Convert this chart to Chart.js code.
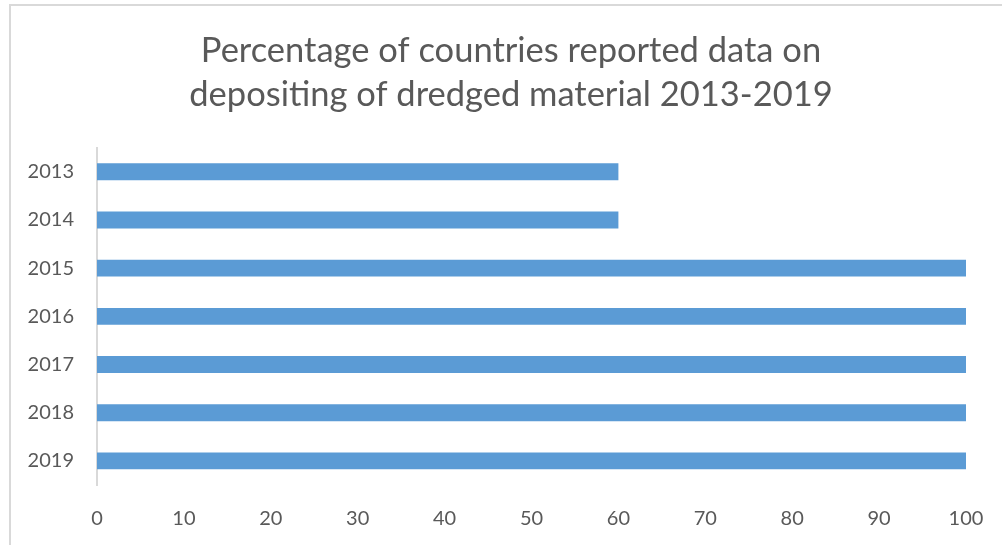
<!DOCTYPE html>
<html>
<head>
<meta charset="utf-8">
<script src="https://cdn.jsdelivr.net/npm/chart.js@4/dist/chart.umd.min.js"></script>
<style>
  html, body { margin: 0; padding: 0; background: #fff; }
  #wrap { position: relative; width: 1002px; height: 545px; overflow: hidden; }
  #frame { position: absolute; left: 9px; top: 4px; width: 1100px; height: 700px;
           border-left: 2px solid #d9d9d9; border-top: 2px solid #d9d9d9; box-sizing: border-box; }
  canvas { position: absolute; left: 0; top: 0; }
</style>
</head>
<body>
<div id="wrap">
  <div id="frame"></div>
  <canvas id="c" width="1002" height="545"></canvas>
</div>
<script>
const years = ['2013', '2014', '2015', '2016', '2017', '2018', '2019'];
const percentReported = [60, 60, 100, 100, 100, 100, 100];
const xTicks = [0, 10, 20, 30, 40, 50, 60, 70, 80, 90, 100];

const textColor = '#595959';
const fontFamily = 'Lato, "Open Sans", sans-serif';

// Centre the title over the whole framed area rather than the padded layout box
const titleSpan = {
  id: 'titleSpan',
  afterLayout(chart) {
    const t = chart.titleBlock;
    if (!t) return;
    t.left = 56;
    t.width = chart.chartArea.right - 56;
    t.right = t.left + t.width;
  }
};

new Chart(document.getElementById('c'), {
  type: 'bar',
  data: {
    labels: years,
    datasets: [{
      data: percentReported,
      backgroundColor: '#5b9bd5',
      borderWidth: 0,
      barPercentage: 0.35,
      categoryPercentage: 1
    }]
  },
  options: {
    indexAxis: 'y',
    responsive: false,
    animation: false,
    layout: { padding: { left: 0, right: 36, top: 0, bottom: 0 } },
    plugins: {
      legend: { display: false },
      tooltip: { enabled: false },
      title: {
        display: true,
        text: ['Percentage of countries reported data on', 'depositing of dredged material 2013-2019'],
        color: textColor,
        font: { family: fontFamily, size: 34.5, weight: 'normal', lineHeight: 1.3 },
        padding: { top: 28, bottom: 30 }
      }
    },
    scales: {
      x: {
        min: 0,
        max: 100,
        afterBuildTicks: (axis) => { axis.ticks = xTicks.map(v => ({ value: v })); },
        grid: { display: false },
        border: { display: false },
        ticks: { color: textColor, font: { family: fontFamily, size: 20 }, padding: 14, maxRotation: 0 },
        afterFit: (axis) => { axis.height = 60; }
      },
      y: {
        grid: { display: false },
        border: { display: true, color: '#d9d9d9', width: 2 },
        ticks: { color: textColor, font: { family: fontFamily, size: 20 }, padding: 15 },
        afterFit: (axis) => { axis.width = 97; }
      }
    }
  },
  plugins: [titleSpan]
});
</script>
</body>
</html>
